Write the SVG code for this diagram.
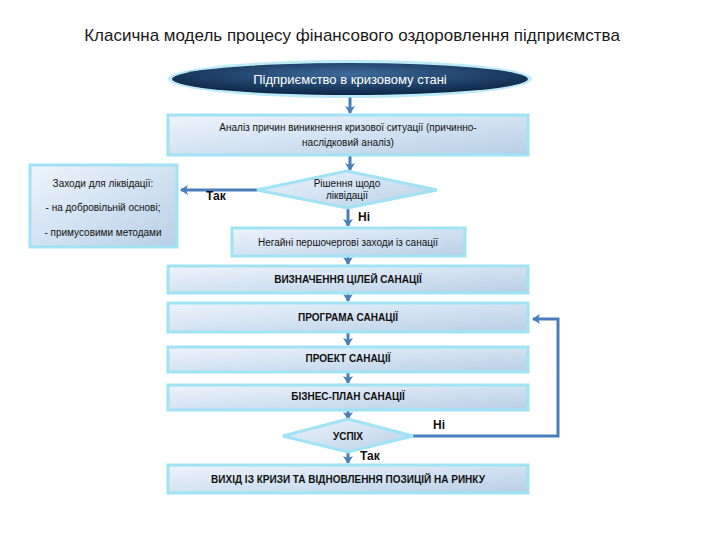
<svg xmlns="http://www.w3.org/2000/svg" width="720" height="540" viewBox="0 0 720 540">
<defs>
<linearGradient id="bg" x1="0" y1="0" x2="1" y2="1"><stop offset="0" stop-color="#eef4fb"/><stop offset="0.5" stop-color="#d3e2f2"/><stop offset="1" stop-color="#b9cfe6"/></linearGradient>
<radialGradient id="eg" cx="0.5" cy="0.35" r="0.6"><stop offset="0" stop-color="#3d6a9a"/><stop offset="1" stop-color="#0f2a4c"/></radialGradient>
<marker id="ar" markerWidth="10" markerHeight="10" refX="7" refY="5" orient="auto" markerUnits="userSpaceOnUse"><path d="M0,0 L8,5 L0,10 L2,5 Z" fill="#4a7ebb"/></marker>
</defs>
<style>
.b{fill:url(#bg);stroke:#9fe3f5;stroke-width:3}
.d{fill:url(#bg);stroke:#9fe3f5;stroke-width:3}
.t{font-family:"Liberation Sans",Arial,sans-serif;font-size:10px;fill:#111;text-anchor:middle}
.tb{font-family:"Liberation Sans",Arial,sans-serif;font-size:10px;font-weight:bold;fill:#111;text-anchor:middle}
.l{font-family:"Liberation Sans",Arial,sans-serif;font-size:12px;font-weight:bold;fill:#111}
.c{stroke:#4a7ebb;stroke-width:3;fill:none}
</style>
<rect width="720" height="540" fill="#fff"/>
<text x="352" y="41" font-family="Liberation Sans,Arial,sans-serif" font-size="17" fill="#1a1a1a" text-anchor="middle">Класична модель процесу фінансового оздоровлення підприємства</text>
<g id="connectors">
<line class="c" x1="350" y1="97" x2="350" y2="113" marker-end="url(#ar)"/>
<line class="c" x1="350" y1="156" x2="350" y2="170" marker-end="url(#ar)"/>
<line class="c" x1="257" y1="190" x2="181" y2="190" marker-end="url(#ar)"/>
<line class="c" x1="348" y1="207" x2="348" y2="226" marker-end="url(#ar)"/>
<line class="c" x1="348" y1="257" x2="348" y2="264" marker-end="url(#ar)"/>
<line class="c" x1="348" y1="294" x2="348" y2="301" marker-end="url(#ar)"/>
<line class="c" x1="348" y1="333" x2="348" y2="345" marker-end="url(#ar)"/>
<line class="c" x1="348" y1="373" x2="348" y2="383" marker-end="url(#ar)"/>
<line class="c" x1="348" y1="411" x2="348" y2="419" marker-end="url(#ar)"/>
<line class="c" x1="348" y1="452" x2="348" y2="463" marker-end="url(#ar)"/>
<polyline class="c" points="413,436 558,436 558,319 533,319" marker-end="url(#ar)"/>
<text class="l" x="206" y="200">Так</text>
<text class="l" x="358" y="221">Ні</text>
<text class="l" x="433" y="429">Ні</text>
<text class="l" x="360" y="460">Так</text>
</g>
<g id="start"><ellipse cx="350" cy="79" rx="182" ry="19" fill="#8fdcf2" opacity="0.6"/><ellipse cx="350" cy="79" rx="178" ry="16" fill="url(#eg)"/><text x="350" y="84" font-family="Liberation Sans,Arial,sans-serif" font-size="13" fill="#fff" text-anchor="middle">Підприємство в кризовому стані</text></g>
<g id="analysis"><rect class="b" x="168" y="115" width="360" height="40"/><text class="t" x="348" y="131">Аналіз причин виникнення кризової ситуації (причинно-</text><text class="t" x="348" y="146">наслідковий аналіз)</text></g>
<g id="decision1"><polygon class="d" points="257,190 347,171 437,190 347,208"/><text class="t" x="347" y="187">Рішення щодо</text><text class="t" x="347" y="199">ліквідації</text></g>
<g id="liquidation"><rect class="b" x="30" y="165" width="147" height="82"/><text class="t" x="103" y="187">Заходи для ліквідації:</text><text class="t" x="103" y="211">- на добровільній основі;</text><text class="t" x="103" y="236">- примусовими методами</text></g>
<g id="urgent"><rect class="b" x="232" y="228" width="233" height="28"/><text class="t" x="348" y="246">Негайні першочергові заходи із санації</text></g>
<g id="goals"><rect class="b" x="168" y="266" width="360" height="27"/><text class="tb" x="348" y="283">ВИЗНАЧЕННЯ ЦІЛЕЙ САНАЦІЇ</text></g>
<g id="program"><rect class="b" x="168" y="303" width="360" height="29"/><text class="tb" x="348" y="321">ПРОГРАМА САНАЦІЇ</text></g>
<g id="project"><rect class="b" x="168" y="347" width="360" height="25"/><text class="tb" x="348" y="362">ПРОЕКТ САНАЦІЇ</text></g>
<g id="business"><rect class="b" x="168" y="385" width="360" height="25"/><text class="tb" x="348" y="400">БІЗНЕС-ПЛАН САНАЦІЇ</text></g>
<g id="success"><polygon class="d" points="283,436 348,419 413,436 348,452"/><text class="tb" x="348" y="440">УСПІХ</text></g>
<g id="exit"><rect class="b" x="168" y="465" width="360" height="28"/><text class="tb" x="348" y="483">ВИХІД ІЗ КРИЗИ ТА ВІДНОВЛЕННЯ ПОЗИЦІЙ НА РИНКУ</text></g>
</svg>
